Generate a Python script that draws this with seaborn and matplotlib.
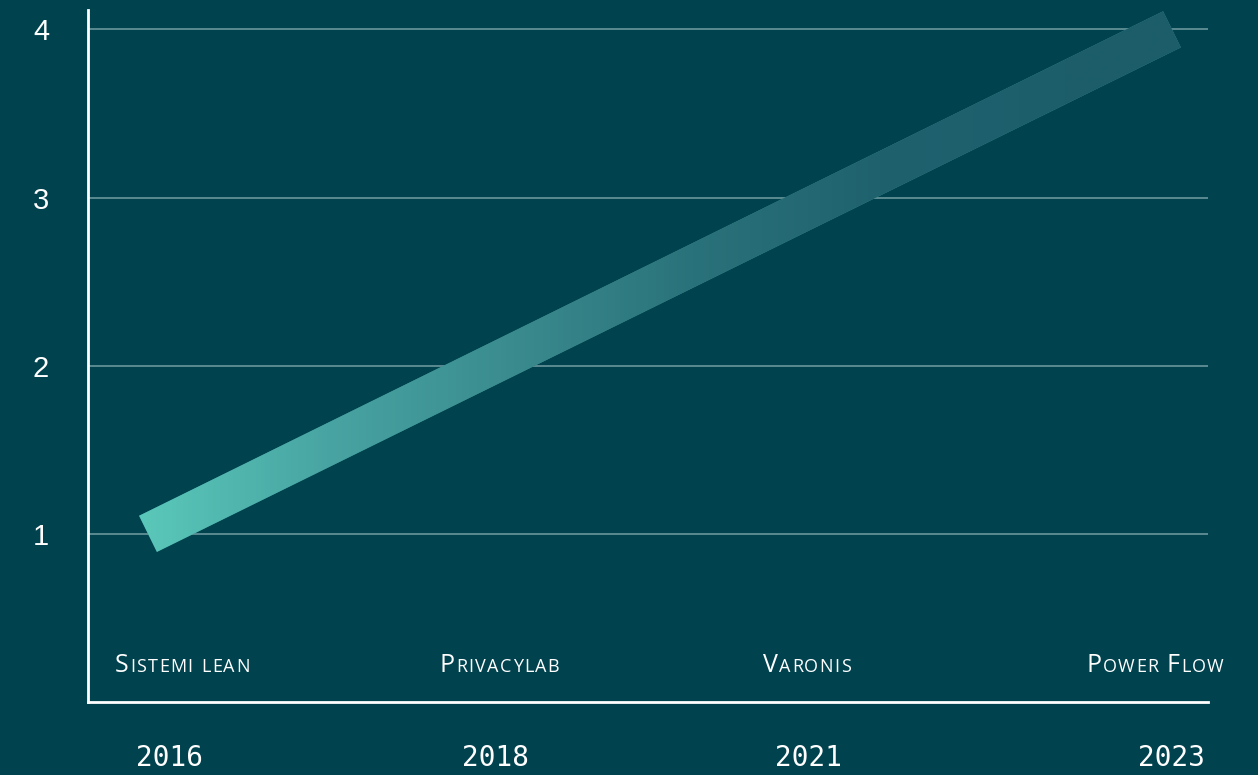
import numpy as np
import pandas as pd
import matplotlib
matplotlib.use("Agg")
import matplotlib.pyplot as plt
import seaborn as sns
from matplotlib.path import Path
from matplotlib.patches import PathPatch
from matplotlib.colors import LinearSegmentedColormap
from matplotlib.transforms import IdentityTransform
from matplotlib.offsetbox import TextArea, HPacker, AnnotationBbox

# ---- data ----
years = ["2016", "2018", "2021", "2023"]
companies = ["Sistemi lean", "Privacylab", "Varonis", "Power Flow"]
values = [1, 2, 3, 4]

# ---- style ----
BG = "#00434F"
GRID = "#6A979D"
GRAD_STOPS = [(0.0, "#5AC8BA"), (0.18, "#48A4A2"), (0.36, "#3A8B8E"),
              (0.53, "#2A727B"), (0.71, "#1F626E"), (0.89, "#1D5E6B"), (1.0, "#1D5D6A")]
year_offsets = [0.064, 0.017, -0.066, 0.0]
label_offsets = [0.10, 0.03, -0.07, -0.05]
LABEL_Y = 0.22

sns.set_theme(style="dark")
plt.rcParams["font.family"] = ["Liberation Sans", "DejaVu Sans"]

W, H = 1258, 775
fig = plt.figure(figsize=(W / 100, H / 100), dpi=100, facecolor=BG)
ax = fig.add_axes([88 / W, 73 / H, 1120 / W, 692 / H])
ax.set_facecolor(BG)

df = pd.DataFrame({"idx": np.arange(len(years)), "value": values, "year": years})
LW = 29
sns.lineplot(data=df, x="idx", y="value", ax=ax, color="#3A8E91",
             linewidth=LW, solid_capstyle="butt", zorder=3)

XLIM = (-60 / 341.3, 3 + 36 / 341.3)
YLIM = (0, 4.115)
ax.set_xlim(*XLIM)
ax.set_ylim(*YLIM)

# gradient fill of the thick line, clipped to its stroke outline
pts = ax.transData.transform(np.column_stack([df["idx"], df["value"]]))
hw = LW * fig.dpi / 72 / 2
verts, codes = [], []
for p, q in zip(pts[:-1], pts[1:]):
    d = q - p
    n = np.array([-d[1], d[0]]) / np.hypot(*d) * hw
    poly = [p + n, q + n, q - n, p - n, p + n]
    verts += poly
    codes += [Path.MOVETO, Path.LINETO, Path.LINETO, Path.LINETO, Path.CLOSEPOLY]
clip = PathPatch(Path(verts, codes), transform=IdentityTransform(), facecolor="none", edgecolor="none")
cmap = LinearSegmentedColormap.from_list("g", GRAD_STOPS)
grad = np.linspace(0, 1, 512).reshape(1, -1)
im = ax.imshow(grad, cmap=cmap, aspect="auto", zorder=4,
               extent=[df["idx"].min() - 0.027, df["idx"].max() + 0.027, YLIM[0], YLIM[1]])
im.set_clip_path(clip)
ax.set_xlim(*XLIM)
ax.set_ylim(*YLIM)

# grid / spines
ax.set_yticks([1, 2, 3, 4])
ax.yaxis.grid(True, color=GRID, linewidth=1.2)
ax.xaxis.grid(False)
ax.set_axisbelow(True)
for s in ["top", "right"]:
    ax.spines[s].set_visible(False)
for s in ["left", "bottom"]:
    ax.spines[s].set_visible(True)
    ax.spines[s].set_color("white")
    ax.spines[s].set_linewidth(2)
ax.set_xlabel("")
ax.set_ylabel("")

ax.set_xticks(df["idx"] + np.array(year_offsets))
ax.set_xticklabels(years)
for t in ax.get_xticklabels():
    t.set_fontfamily("DejaVu Sans Mono")
    t.set_fontsize(20)
for t in ax.get_yticklabels():
    t.set_fontsize(21)
ax.tick_params(axis="x", length=0, colors="white", pad=30)
ax.tick_params(axis="y", length=0, colors="white", pad=28)


def small_caps(ax, x, y, text, big=18, small=13, color="white", family="Open Sans", track=1.0):
    words = []
    for w in text.split(" "):
        kids = []
        for ch in w:
            size = big if ch.isupper() else small
            kids.append(TextArea(ch.upper(), textprops=dict(color=color, size=size, family=family)))
        words.append(HPacker(children=kids, align="baseline", pad=0, sep=track))
    box = HPacker(children=words, align="baseline", pad=0, sep=6)
    ab = AnnotationBbox(box, (x, y), xycoords="data", box_alignment=(0.5, 0.5),
                        frameon=False, pad=0, zorder=5)
    ax.add_artist(ab)


for i, c in enumerate(companies):
    small_caps(ax, df["idx"][i] + label_offsets[i], LABEL_Y, c)

fig.savefig("out.png", dpi=100, facecolor=BG)
